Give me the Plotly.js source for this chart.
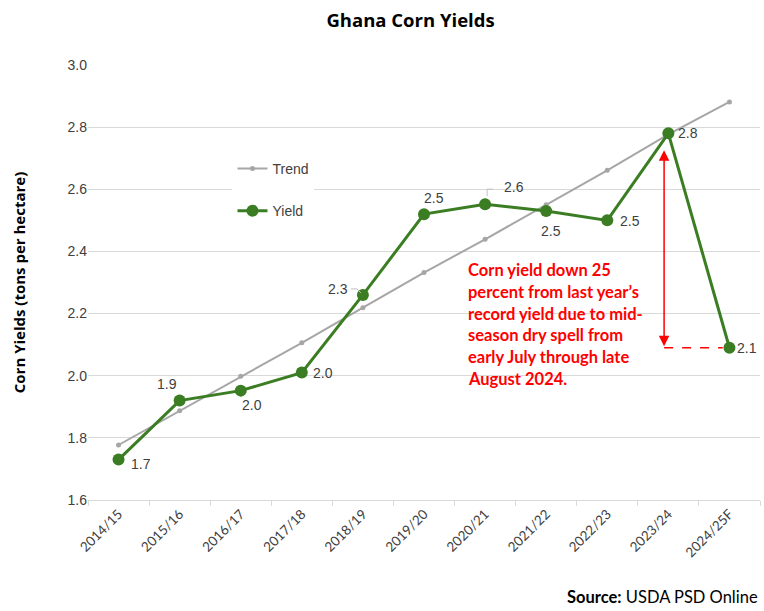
<!DOCTYPE html>
<html>
<head>
<meta charset="utf-8">
<script src="https://cdn.plot.ly/plotly-3.0.1.min.js"></script>
<style>html,body{margin:0;padding:0;background:#fff;}#chart{width:764px;height:611px;}</style>
</head>
<body>
<div id="chart"></div>
<script>
const years = ["2014/15","2015/16","2016/17","2017/18","2018/19","2019/20","2020/21","2021/22","2022/23","2023/24","2024/25F"];
const yieldVals = [1.73, 1.92, 1.952, 2.01, 2.26, 2.52, 2.552, 2.53, 2.50, 2.78, 2.09];
const trendVals = [1.777, 1.887, 1.998, 2.106, 2.219, 2.332, 2.439, 2.550, 2.661, 2.777, 2.881];
const yTicks = [1.6, 1.8, 2.0, 2.2, 2.4, 2.6, 2.8, 3.0];
const noteLines = ["Corn yield down 25", "percent from last year’s", "record yield due to mid-", "season dry spell from", "early July through late", "August 2024."];

// label pixel offsets (styling)
const labDx = [22, -13, 11, 21, -25, 10, 29, 5, 23, 20, 18];
const labDy = [-4, 17, -14, 0, 6, 16, 17, -20, -1, 0, 0];

const labelFont = {family: "Liberation Sans, Arial, sans-serif", size: 14, color: "#404040"};
const annotations = yieldVals.map((v, i) => ({
  x: i, y: v, xref: "x", yref: "y", text: (Math.round(v * 10 + 1e-9) / 10).toFixed(1), showarrow: false,
  xshift: labDx[i], yshift: labDy[i], font: labelFont
}));

noteLines.forEach((line, k) => {
  annotations.push({
    x: 5.68, y: 2.372, xref: "x", yref: "y", xanchor: "left", yanchor: "middle", align: "left",
    yshift: -10 - 21.7 * k,
    text: line, showarrow: false,
    font: {family: "Lato, sans-serif", size: 16.5, color: "#ff0000", weight: 700}
  });
});

annotations.push({
  x: 8.93, y: 2.726, xref: "x", yref: "y", ax: 8.93, ay: yieldVals[10], axref: "x", ayref: "y",
  text: "", showarrow: true, arrowside: "end+start", arrowhead: 2, arrowsize: 1.4, arrowwidth: 1.5,
  arrowcolor: "#ff0000", standoff: 0, startstandoff: 0
});

annotations.push({
  x: 1, xref: "paper", y: -0.223, yref: "paper", xanchor: "right", yanchor: "middle",
  text: "<b>Source:</b> USDA PSD Online", showarrow: false,
  font: {family: "Lato, sans-serif", size: 16.5, color: "#000"}
});

const shapes = [
  {type: "line", xref: "x", yref: "y", x0: 8.93, x1: 9.89, y0: yieldVals[10], y1: yieldVals[10],
   line: {color: "#ff0000", width: 1.5, dash: "dash"}},
  {type: "line", xref: "x", yref: "y", xsizemode: "pixel", ysizemode: "pixel", xanchor: 4, yanchor: yieldVals[4],
   x0: -12, x1: -6, y0: 6, y1: 6, line: {color: "#bfbfbf", width: 1}},
  {type: "line", xref: "x", yref: "y", xsizemode: "pixel", ysizemode: "pixel", xanchor: 4, yanchor: yieldVals[4],
   x0: -6, x1: -2, y0: 6, y1: 2, line: {color: "#bfbfbf", width: 1}},
  {type: "line", xref: "x", yref: "y", xsizemode: "pixel", ysizemode: "pixel", xanchor: 6, yanchor: yieldVals[6],
   x0: 2, x1: 2, y0: 8, y1: 15, line: {color: "#bfbfbf", width: 1}},
  {type: "line", xref: "x", yref: "y", xsizemode: "pixel", ysizemode: "pixel", xanchor: 6, yanchor: yieldVals[6],
   x0: 2, x1: 8, y0: 15, y1: 15, line: {color: "#bfbfbf", width: 1}}
];

const traces = [
  {x: years, y: trendVals, name: "Trend", type: "scatter", mode: "lines+markers",
   line: {color: "#a6a6a6", width: 2}, marker: {color: "#a6a6a6", size: 5},
   legendgroup: "t", legendrank: 1},
  {x: years, y: yieldVals, name: "Yield", type: "scatter", mode: "lines+markers",
   line: {color: "#3b7d23", width: 3}, marker: {color: "#3b7d23", size: 12},
   legendgroup: "y", legendrank: 2}
];

const layout = {
  width: 764, height: 611,
  margin: {l: 88, r: 4, t: 65, b: 111},
  paper_bgcolor: "#fff", plot_bgcolor: "#fff",
  title: {text: "<b>Ghana Corn Yields</b>", x: 0.48, xref: "paper", y: 0.966, yref: "container", yanchor: "middle",
          font: {family: "Open Sans, sans-serif", size: 18.5, color: "#000"}},
  xaxis: {type: "category", range: [-0.5, 10.5], tickangle: -45, showgrid: false,
          showline: true, linecolor: "#d9d9d9", linewidth: 1,
          ticks: "outside", tickson: "boundaries", ticklen: 5, tickcolor: "#d9d9d9",
          tickfont: {family: "Lato, sans-serif", size: 13.5, color: "#404040"}},
  yaxis: {range: [1.6, 3.0], tickvals: yTicks, ticktext: yTicks.map(v => v.toFixed(1)),
          showgrid: true, gridcolor: "#d9d9d9", gridwidth: 1, zeroline: false, ticks: "",
          tickfont: {family: "Liberation Sans, Arial, sans-serif", size: 14, color: "#404040"},
          title: {text: "<b>Corn Yields (tons per hectare)</b>", standoff: 38,
                  font: {family: "Open Sans, sans-serif", size: 15, color: "#000"}}},
  legend: {x: 0.215, y: 0.798, xanchor: "left", yanchor: "top", bgcolor: "#fff",
           tracegroupgap: 21, itemwidth: 30,
           font: {family: "Liberation Sans, Arial, sans-serif", size: 14, color: "#404040"}},
  showlegend: true,
  annotations: annotations,
  shapes: shapes
};

Plotly.newPlot("chart", traces, layout, {displayModeBar: false, staticPlot: true});
</script>
</body>
</html>
